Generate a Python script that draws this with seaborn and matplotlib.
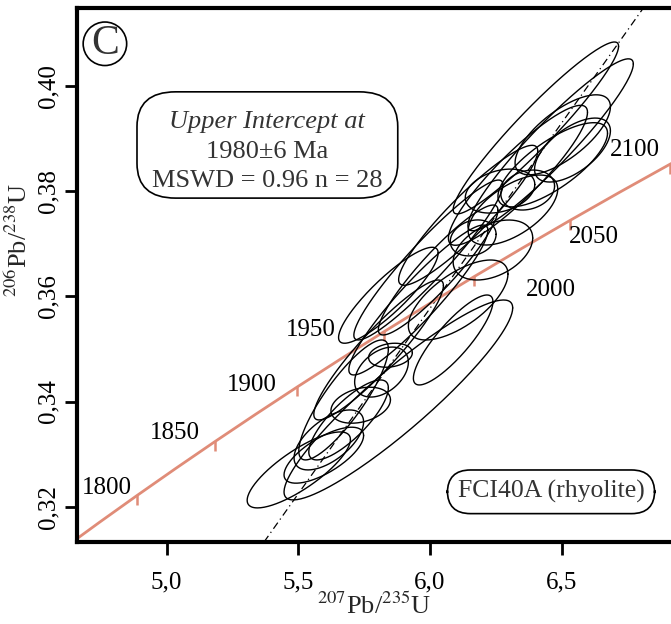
# %%
# Concordia diagram FCI40A (rhyolite) - seaborn / matplotlib
import numpy as np
import pandas as pd
import matplotlib
matplotlib.use("Agg")
import matplotlib.pyplot as plt
import seaborn as sns

# %%
# U decay constants (1/yr) for the concordia curve
lambda238 = 1.55125e-10
lambda235 = 9.8485e-10

# concordia age ticks (Ma) and where their labels sit
tick_ages = [1800, 1850, 1900, 1950, 2000, 2050, 2100]
label_x = [4.773, 5.030, 5.325, 5.548, 6.458, 6.624, 6.779]
label_y = [0.3236, 0.3340, 0.3431, 0.3536, 0.3612, 0.3713, 0.3878]
curve_ages = [1750, 1775, 1800, 1825, 1850, 1875, 1900, 1925, 1950, 1975,
              2000, 2025, 2050, 2075, 2100, 2125]

# discordia line endpoints
disc_x = [5.37, 6.81]
disc_y = [0.3133, 0.4148]

# error ellipses: centre, half-extent in x and y, error correlation
ell_x = [6.402, 6.458, 6.504, 6.466, 6.541, 6.334, 6.266, 6.371, 6.315, 6.164,
         6.239, 6.145, 5.994, 6.031, 5.880, 5.842, 5.956, 6.107, 6.088, 5.850,
         5.816, 5.737, 5.691, 5.616, 5.597, 5.502, 5.672, 5.805]
ell_y = [0.3920, 0.3888, 0.3907, 0.3850, 0.3878, 0.3830, 0.3800, 0.3802, 0.3764, 0.3711,
         0.3688, 0.3754, 0.3669, 0.3650, 0.3403, 0.3602, 0.3593, 0.3593, 0.3517, 0.3488,
         0.3456, 0.3393, 0.3365, 0.3327, 0.3298, 0.3270, 0.3403, 0.3498]
ell_sx = [0.314, 0.314, 0.181, 0.208, 0.144, 0.264, 0.132, 0.102, 0.170, 0.087,
          0.151, 0.264, 0.283, 0.227, 0.434, 0.189, 0.264, 0.189, 0.151, 0.083,
          0.102, 0.113, 0.151, 0.132, 0.151, 0.196, 0.170, 0.246]
ell_sy = [0.01634, 0.01634, 0.0076, 0.00800, 0.00608, 0.0133, 0.00418, 0.0038, 0.00665, 0.00342,
          0.0057, 0.0133, 0.0152, 0.01235, 0.019, 0.00912, 0.01425, 0.0076, 0.00855, 0.00228,
          0.00475, 0.00342, 0.0076, 0.0057, 0.00532, 0.00722, 0.0114, 0.0133]
ell_rho = [0.95, 0.94, 0.7, 0.75, 0.6, 0.9, 0.3, 0.2, 0.6, 0.2,
           0.4, 0.92, 0.94, 0.92, 0.92, 0.88, 0.93, 0.65, 0.85, 0.2,
           0.4, 0.3, 0.8, 0.6, 0.7, 0.8, 0.85, 0.92]

# %%
sns.set_style("ticks")
plt.rcParams['font.family'] = ['Liberation Serif', 'DejaVu Serif']
plt.rcParams['mathtext.fontset'] = 'stix'

ages = np.array(curve_ages) * 1e6
conc = pd.DataFrame({"x": np.exp(lambda235 * ages) - 1, "y": np.exp(lambda238 * ages) - 1})
tk = np.array(tick_ages) * 1e6
ticks = pd.DataFrame({"x": np.exp(lambda235 * tk) - 1, "y": np.exp(lambda238 * tk) - 1})

rows = []
t = np.linspace(0, 2 * np.pi, 200)
for i in range(len(ell_x)):
    r = ell_rho[i]
    ex = ell_x[i] + ell_sx[i] * np.cos(t)
    ey = ell_y[i] + ell_sy[i] * (r * np.cos(t) + np.sqrt(1 - r ** 2) * np.sin(t))
    rows.append(pd.DataFrame({"x": ex, "y": ey, "id": i}))
ell = pd.concat(rows, ignore_index=True)

fig = plt.figure(figsize=(6.71, 6.24), dpi=100)
ax = fig.add_axes([77 / 671, 82 / 624, 594 / 671, 534 / 624])

salmon = '#e08c78'
sns.lineplot(data=conc, x="x", y="y", color=salmon, lw=2, sort=False, ax=ax, zorder=2)
ax.plot(ticks["x"], ticks["y"] - 0.0008, ls='none', marker='|', ms=7, mew=1.8,
        color=salmon, zorder=2)
ax.plot(disc_x, disc_y, color='black', lw=0.9, ls=(0, (6, 3, 1, 3)), zorder=1)
sns.lineplot(data=ell, x="x", y="y", units="id", estimator=None, sort=False,
             color='black', lw=1.0, ax=ax, zorder=3)

for a, lx, ly in zip(tick_ages, label_x, label_y):
    ax.text(lx, ly, str(a), fontsize=18, ha='center', va='center', color='black', zorder=4)

txt_c = '#333333'
ax.text(0.32, 0.787, "Upper Intercept at", style='italic', fontsize=19, color=txt_c,
        ha='center', va='center', transform=ax.transAxes)
ax.text(0.32, 0.730, "1980±6 Ma", fontsize=19, color=txt_c,
        ha='center', va='center', transform=ax.transAxes)
ax.text(0.32, 0.676, "MSWD = 0.96 n = 28", fontsize=19, color=txt_c,
        ha='center', va='center', transform=ax.transAxes)
box = matplotlib.patches.FancyBboxPatch((0.101, 0.644), 0.439, 0.199,
                                        boxstyle="round,pad=0.0,rounding_size=0.065",
                                        transform=ax.transAxes, fc='none', ec='black', lw=1.2)
ax.add_patch(box)

ax.text(0.798, 0.094, "FCI40A (rhyolite)", fontsize=18.5, color=txt_c,
        ha='center', va='center', transform=ax.transAxes,
        bbox=dict(boxstyle="round,pad=0.4,rounding_size=0.9", fc='white', ec='black', lw=1.2))

ax.text(0.047, 0.933, "C", fontsize=30, color=txt_c, ha='center', va='center',
        transform=ax.transAxes,
        bbox=dict(boxstyle="circle,pad=0.06", fc='white', ec='black', lw=1.2))

ax.set_xlim(4.66, 6.915)
ax.set_ylim(0.3133, 0.4148)
ax.set_xticks([5.0, 5.5, 6.0, 6.5])
ax.set_xticklabels(["5,0", "5,5", "6,0", "6,5"])
ax.set_yticks([0.32, 0.34, 0.36, 0.38, 0.40])
ax.set_yticklabels(["0,32", "0,34", "0,36", "0,38", "0,40"], rotation=90, va='center')
ax.tick_params(axis='both', labelsize=18, length=9, width=2, direction='out', color='black',
               labelcolor='black')
ax.tick_params(axis='x', pad=12)
ax.set_xlabel("$^{207}$Pb/$^{235}$U", fontsize=19, labelpad=0)
ax.set_ylabel("$^{206}$Pb/$^{238}$U", fontsize=19)
ax.yaxis.set_label_coords(-0.076, 0.566)

for s in ['left', 'bottom', 'top']:
    ax.spines[s].set_linewidth(3)
    ax.spines[s].set_color('black')
ax.spines['right'].set_visible(False)

fig.savefig("out.png", dpi=100)
